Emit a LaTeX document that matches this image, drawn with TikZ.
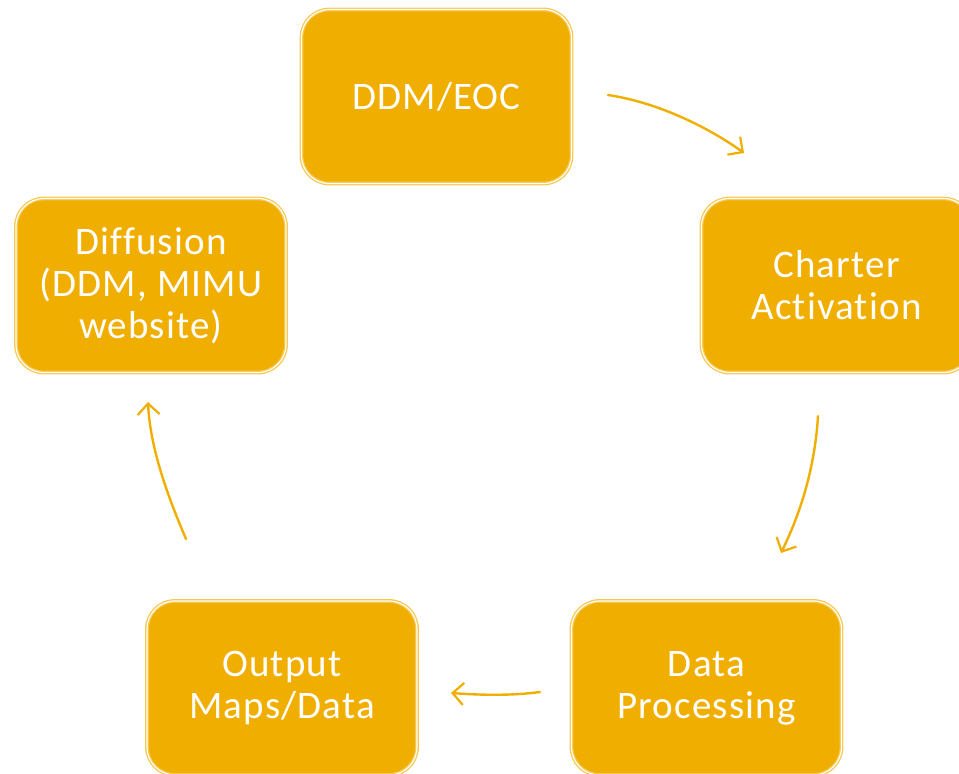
\documentclass[tikz,border=0pt]{standalone}
\usepackage{fontspec}
\setmainfont{Carlito}[LetterSpace=3,Ligatures={NoCommon,NoRare,NoDiscretionary,NoContextual}]
\usetikzlibrary{arrows.meta}
\definecolor{boxfill}{RGB}{240,174,0}
\definecolor{boxedge}{RGB}{246,200,80}
\definecolor{arrowcol}{RGB}{240,174,0}
\tikzset{
  stagebox/.style={rectangle, rounded corners=28pt, fill=boxfill, draw=boxedge,
    line width=1.3pt, double=white, double distance=1.2pt,
    minimum width=270pt, minimum height=174pt, align=center, text=white,
    font=\fontsize{39}{42}\selectfont, inner sep=0pt},
  flow/.style={draw=arrowcol, line width=2.4pt, line cap=round,
    -{Straight Barb[length=11pt,width=22pt,line width=2.2pt]}}
}
\begin{document}
\begin{tikzpicture}[x=1pt,y=-1pt]
\useasboundingbox (0,0) rectangle (959,774);
\node[stagebox] (ddm) at (436.5,96.5) {DDM/EOC};
\node[stagebox] (charter) at (836.5,285.5) {Charter\\Activation};
\node[stagebox] (data) at (706.5,688) {Data\\Processing};
\node[stagebox] (output) at (282,688) {Output\\Maps/Data};
\node[stagebox] (diff) at (151,285.5) {Diffusion\\(DDM, MIMU\\website)};
\coordinate (a1s) at (608,95);
\coordinate (a1e) at (744,153);
\coordinate (a2s) at (818,416);
\coordinate (a2e) at (781,553);
\coordinate (a3s) at (540,692);
\coordinate (a3e) at (451,693);
\coordinate (a4s) at (186,539);
\coordinate (a4e) at (148,402);
\draw[flow] (a1s) .. controls (655,102) and (705,125) .. (a1e);
\draw[flow] (a2s) .. controls (815,465) and (802,510) .. (a2e);
\draw[flow] (a3s) .. controls (510,696) and (480,695) .. (a3e);
\draw[flow] (a4s) .. controls (165,490) and (150,445) .. (a4e);
\end{tikzpicture}
\end{document}
